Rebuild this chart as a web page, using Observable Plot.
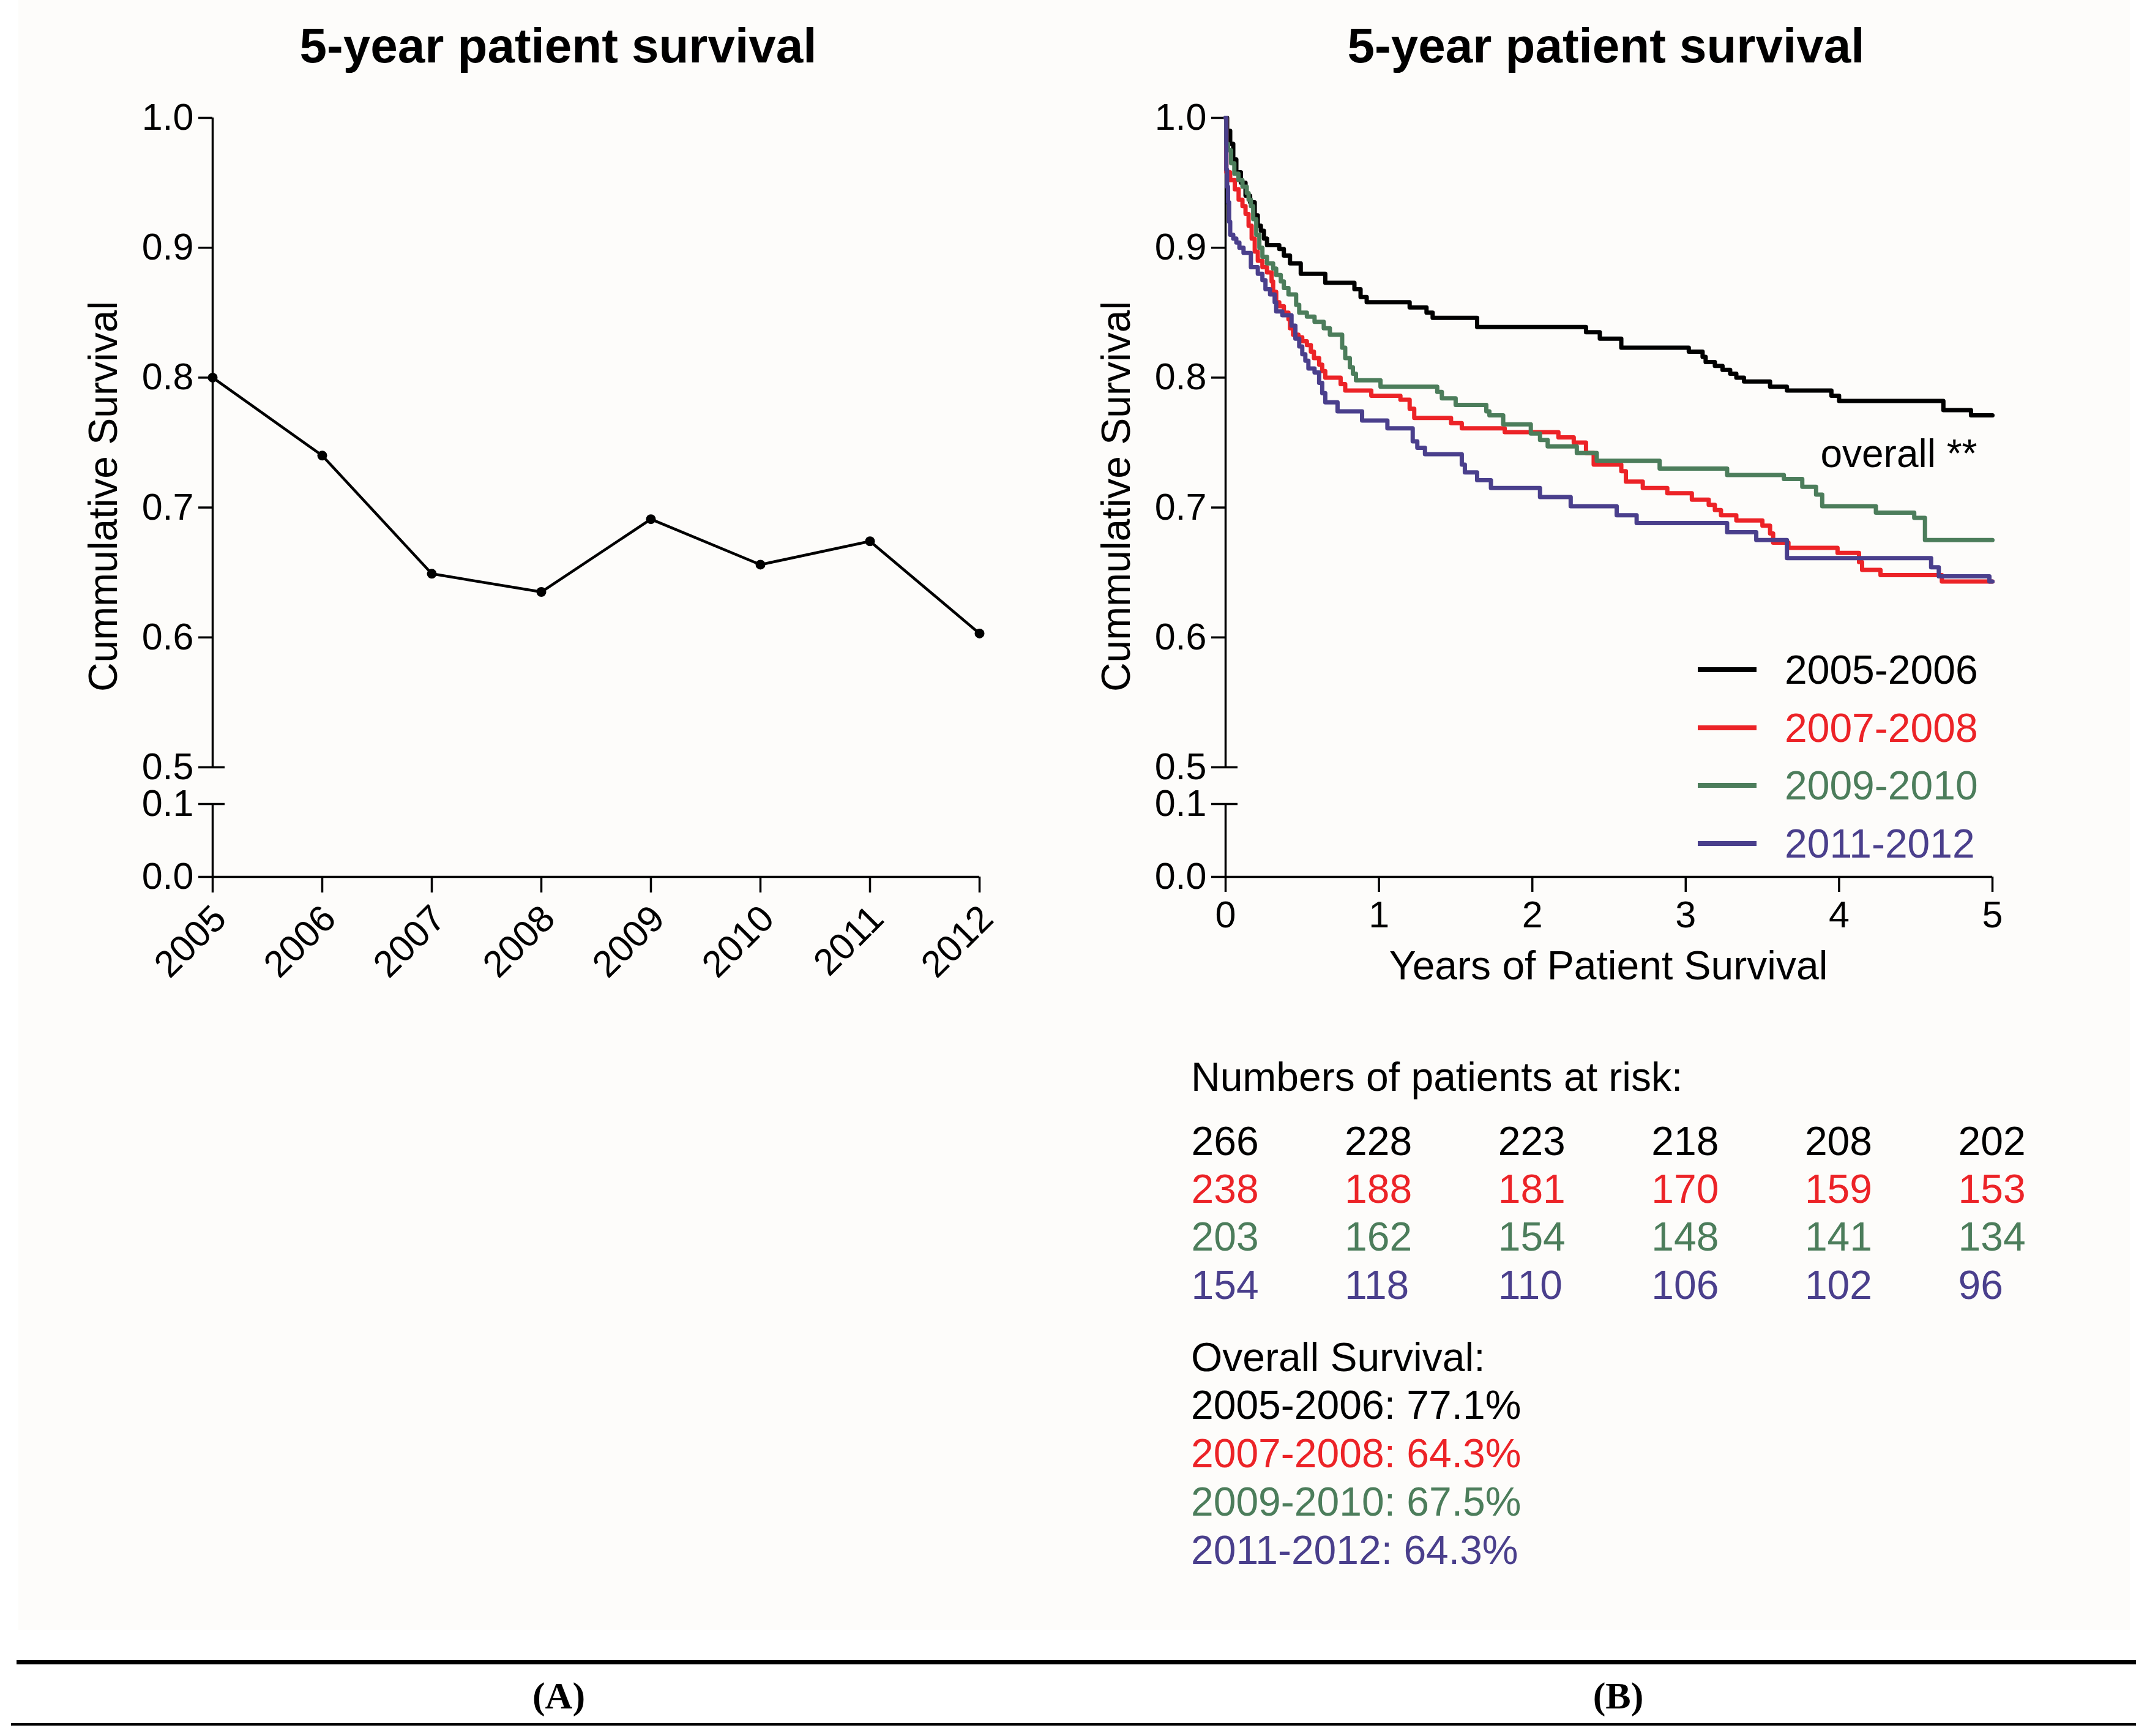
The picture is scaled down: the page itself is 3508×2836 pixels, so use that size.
<!DOCTYPE html>
<html>
<head>
<meta charset="utf-8">
<script src="https://cdn.jsdelivr.net/npm/d3@7"></script>
<script src="https://cdn.jsdelivr.net/npm/@observablehq/plot@0.6"></script>
<style>
  html, body { margin: 0; padding: 0; background: #ffffff; overflow: hidden; }
  #page { position: relative; width: 3508px; height: 2836px; background: #ffffff;
          font-family: "Liberation Sans", Arial, sans-serif; color: #000; }
  .abs { position: absolute; }
</style>
</head>
<body>
<div id="page"></div>
<script>
// ---------------- DATA ----------------
const years = [2005, 2006, 2007, 2008, 2009, 2010, 2011, 2012];
const survival5y = [0.800, 0.740, 0.649, 0.635, 0.691, 0.656, 0.674, 0.603];

const groups = ["2005-2006", "2007-2008", "2009-2010", "2011-2012"];
const groupColors = ["#000000", "#ec2327", "#4c7d5b", "#4a3f8c"];

const km2005Times = [0, 0.01, 0.03, 0.05, 0.07, 0.1, 0.13, 0.16, 0.19, 0.21, 0.23, 0.25, 0.27, 0.35, 0.38, 0.42, 0.49, 0.65, 0.84, 0.88, 0.92, 1.2, 1.31, 1.35, 1.64, 2.35, 2.44, 2.58, 3.02, 3.11, 3.13, 3.19, 3.24, 3.29, 3.33, 3.38, 3.55, 3.66, 3.95, 4.0, 4.68, 4.86, 5.0];
const km2005Surv  = [1, 0.99, 0.98, 0.968, 0.958, 0.95, 0.94, 0.935, 0.925, 0.917, 0.913, 0.907, 0.902, 0.899, 0.894, 0.888, 0.88, 0.873, 0.868, 0.862, 0.858, 0.854, 0.85, 0.846, 0.839, 0.835, 0.83, 0.823, 0.82, 0.816, 0.812, 0.809, 0.806, 0.803, 0.8, 0.797, 0.793, 0.79, 0.786, 0.782, 0.775, 0.771, 0.771];

const km2007Times = [0, 0.005, 0.03, 0.06, 0.085, 0.11, 0.13, 0.15, 0.17, 0.19, 0.21, 0.24, 0.27, 0.3, 0.31, 0.33, 0.35, 0.38, 0.41, 0.42, 0.44, 0.475, 0.5, 0.53, 0.556, 0.576, 0.61, 0.63, 0.65, 0.75, 0.78, 0.95, 1.14, 1.2, 1.23, 1.47, 1.54, 1.82, 2.17, 2.27, 2.35, 2.4, 2.58, 2.61, 2.72, 2.88, 3.04, 3.15, 3.19, 3.23, 3.33, 3.5, 3.55, 3.57, 3.67, 3.99, 4.13, 4.15, 4.27, 4.67, 5.0];
const km2007Surv  = [1, 0.958, 0.952, 0.945, 0.937, 0.932, 0.926, 0.917, 0.907, 0.897, 0.89, 0.885, 0.881, 0.874, 0.866, 0.858, 0.855, 0.85, 0.845, 0.838, 0.833, 0.831, 0.828, 0.825, 0.82, 0.815, 0.81, 0.805, 0.8, 0.795, 0.79, 0.786, 0.783, 0.776, 0.769, 0.765, 0.761, 0.758, 0.754, 0.75, 0.742, 0.733, 0.728, 0.72, 0.715, 0.711, 0.706, 0.702, 0.698, 0.694, 0.69, 0.686, 0.68, 0.673, 0.669, 0.665, 0.658, 0.652, 0.648, 0.643, 0.643];

const km2009Times = [0, 0.005, 0.016, 0.036, 0.057, 0.084, 0.11, 0.138, 0.15, 0.165, 0.18, 0.2, 0.22, 0.24, 0.27, 0.31, 0.33, 0.36, 0.38, 0.41, 0.46, 0.48, 0.53, 0.58, 0.64, 0.68, 0.76, 0.78, 0.81, 0.83, 0.85, 1.01, 1.38, 1.41, 1.5, 1.7, 1.72, 1.81, 1.99, 2.05, 2.1, 2.29, 2.42, 2.83, 3.27, 3.64, 3.76, 3.85, 3.89, 4.24, 4.49, 4.56, 5.0];
const km2009Surv  = [1, 0.98, 0.975, 0.965, 0.957, 0.952, 0.947, 0.942, 0.937, 0.932, 0.922, 0.91, 0.9, 0.893, 0.888, 0.884, 0.879, 0.874, 0.869, 0.864, 0.856, 0.85, 0.847, 0.843, 0.838, 0.833, 0.823, 0.815, 0.808, 0.803, 0.798, 0.793, 0.789, 0.784, 0.779, 0.774, 0.771, 0.764, 0.757, 0.752, 0.747, 0.742, 0.736, 0.730, 0.725, 0.722, 0.716, 0.71, 0.701, 0.696, 0.692, 0.675, 0.675];

const km2011Times = [0, 0.005, 0.01, 0.016, 0.023, 0.03, 0.05, 0.07, 0.09, 0.117, 0.165, 0.21, 0.24, 0.26, 0.29, 0.32, 0.33, 0.37, 0.43, 0.455, 0.48, 0.5, 0.52, 0.54, 0.58, 0.61, 0.63, 0.65, 0.73, 0.89, 1.055, 1.22, 1.25, 1.3, 1.54, 1.56, 1.64, 1.73, 2.05, 2.25, 2.55, 2.68, 3.27, 3.46, 3.66, 4.6, 4.65, 4.98, 5.0];
const km2011Surv  = [1, 0.96, 0.947, 0.935, 0.92, 0.91, 0.907, 0.904, 0.9, 0.896, 0.885, 0.88, 0.875, 0.868, 0.864, 0.858, 0.851, 0.848, 0.84, 0.83, 0.824, 0.818, 0.813, 0.807, 0.804, 0.796, 0.788, 0.781, 0.774, 0.767, 0.761, 0.751, 0.746, 0.741, 0.733, 0.727, 0.721, 0.715, 0.708, 0.701, 0.694, 0.688, 0.681, 0.675, 0.661, 0.654, 0.647, 0.643, 0.643];

const riskTimes = [0, 1, 2, 3, 4, 5];
const risk2005 = [266, 228, 223, 218, 208, 202];
const risk2007 = [238, 188, 181, 170, 159, 153];
const risk2009 = [203, 162, 154, 148, 141, 134];
const risk2011 = [154, 118, 110, 106, 102, 96];
const overallSurvival = ["77.1%", "64.3%", "67.5%", "64.3%"];

const yTicksUpper = [0.5, 0.6, 0.7, 0.8, 0.9, 1.0];
const yTicksLower = [0, 0.1];
const yDomainUpper = [0.5, 1.0];
const yDomainLower = [0, 0.1];
const xTicksB = [0, 1, 2, 3, 4, 5];
const annotation = [{t: 5, s: 0.741, label: "overall **"}];

const chartTitle = "5-year patient survival";
const yLabel = "Cummulative Survival";
const xLabelB = "Years of Patient Survival";

// ---------------- BUILD ----------------
const FONT = '"Liberation Sans", Arial, sans-serif';
const page = document.getElementById("page");

function box(o) {
  const d = document.createElement("div");
  d.className = "abs";
  Object.assign(d.style, o);
  page.appendChild(d);
  return d;
}
function addText(txt, o) {
  const d = document.createElement("div");
  d.className = "abs";
  d.textContent = txt;
  const tx = o.anchor === "middle" ? "-50%" : o.anchor === "end" ? "-100%" : "0";
  Object.assign(d.style, {
    left: o.x + "px", top: o.y + "px", fontSize: o.size + "px", lineHeight: "1",
    whiteSpace: "nowrap", color: o.color || "#000", fontWeight: o.weight || "normal",
    fontFamily: o.family || FONT,
    transform: `translate(${tx}, -50%)` + (o.rotate ? ` rotate(${o.rotate}deg)` : "")
  });
  page.appendChild(d);
  return d;
}
function mount(svg, left, top, w) {
  const holder = document.createElement("div");
  holder.className = "abs";
  Object.assign(holder.style, {left: left + "px", top: top + "px", width: w + "px"});
  holder.appendChild(svg);
  page.appendChild(holder);
}

// off-white figure background
box({left: "30px", top: "0px", width: "3450px", height: "2663px", background: "#fdfcfa"});

// titles
addText(chartTitle, {x: 912, y: 75, size: 80, weight: "bold", anchor: "middle"});
addText(chartTitle, {x: 2624, y: 75, size: 80, weight: "bold", anchor: "middle"});
// y labels
addText(yLabel, {x: 168, y: 811, size: 66, anchor: "middle", rotate: -90});
addText(yLabel, {x: 1823, y: 811, size: 66, anchor: "middle", rotate: -90});
// x label panel B
addText(xLabelB, {x: 2628, y: 1577, size: 66, anchor: "middle"});

const AX = 3.5;
const fmt1 = d3.format(".1f");
const commonStyle = {fontFamily: FONT, fontSize: "61px", background: "transparent", overflow: "visible", maxWidth: "none", color: "#000"};

// Geometry (page pixels): upper segment 1.0 -> y=192, 0.5 -> y=1253 ; lower segment 0.1 -> 1313, 0.0 -> 1432
const UP_TOP = 130, UP_H = 1153;     // svg spans 130..1283
const LO_TOP = 1283, LO_H = 407;     // svg spans 1283..1690

function upperPlot({xDomain, xLeft, xRight, marks}) {
  return Plot.plot({
    width: 1754, height: UP_H,
    marginTop: 192 - UP_TOP, marginBottom: (UP_TOP + UP_H) - 1253,
    marginLeft: xLeft, marginRight: 1754 - xRight,
    style: commonStyle,
    x: {domain: xDomain, axis: null},
    y: {domain: yDomainUpper, axis: null},
    color: {domain: groups, range: groupColors},
    marks: [
      Plot.ruleX([xDomain[0]], {y1: yDomainUpper[0], y2: yDomainUpper[1], strokeWidth: AX}),
      Plot.axisY({ticks: yTicksUpper, tickFormat: fmt1, tickSize: 23, tickPadding: 8, strokeWidth: AX, fontSize: 61, label: null}),
      Plot.axisY({ticks: [yDomainUpper[0]], tickFormat: () => "", tickSize: 20, dx: 20, strokeWidth: AX, label: null}),
      ...marks
    ]
  });
}
function lowerPlot({xDomain, xLeft, xRight, xAxis}) {
  return Plot.plot({
    width: 1754, height: LO_H,
    marginTop: 1313 - LO_TOP, marginBottom: (LO_TOP + LO_H) - 1432,
    marginLeft: xLeft, marginRight: 1754 - xRight,
    style: commonStyle,
    x: {domain: xDomain, axis: null},
    y: {domain: yDomainLower, axis: null},
    marks: [
      Plot.ruleX([xDomain[0]], {y1: yDomainLower[0], y2: yDomainLower[1], strokeWidth: AX}),
      Plot.ruleY([yDomainLower[0]], {x1: xDomain[0], x2: xDomain[1], strokeWidth: AX}),
      Plot.axisY({ticks: yTicksLower, tickFormat: fmt1, tickSize: 23, tickPadding: 8, strokeWidth: AX, fontSize: 61, label: null}),
      Plot.axisY({ticks: [yDomainLower[1]], tickFormat: () => "", tickSize: 20, dx: 20, strokeWidth: AX, label: null}),
      ...xAxis
    ]
  });
}

// ----- Panel A -----
const rowsA = years.map((y, i) => ({year: y, s: survival5y[i]}));
const xDomA = [years[0], years[years.length - 1]];
mount(upperPlot({
  xDomain: xDomA, xLeft: 347, xRight: 1600,
  marks: [
    Plot.line(rowsA, {x: "year", y: "s", stroke: "#000", strokeWidth: 4.5}),
    Plot.dot(rowsA, {x: "year", y: "s", r: 8, fill: "#000", stroke: "none"})
  ]
}), 0, UP_TOP, 1754);
mount(lowerPlot({
  xDomain: xDomA, xLeft: 347, xRight: 1600,
  xAxis: [
    Plot.axisX({ticks: years, tickFormat: () => "", tickSize: 26, strokeWidth: AX, label: null}),
    Plot.axisX({ticks: years, tickFormat: d => String(d), tickRotate: -45, tickSize: 26, tickPadding: 32, dx: 12, strokeOpacity: 0, fontSize: 61, label: null})
  ]
}), 0, LO_TOP, 1754);

// ----- Panel B -----
const kmSeries = [
  [km2005Times, km2005Surv], [km2007Times, km2007Surv],
  [km2009Times, km2009Surv], [km2011Times, km2011Surv]
];
const kmRows = kmSeries.flatMap(([ts, ss], gi) => ts.map((t, i) => ({t, s: ss[i], group: groups[gi]})));
const xDomB = [xTicksB[0], xTicksB[xTicksB.length - 1]];
mount(upperPlot({
  xDomain: xDomB, xLeft: 248, xRight: 1501,
  marks: [
    Plot.line(kmRows, {x: "t", y: "s", z: "group", stroke: "group", curve: "step-after", strokeWidth: 7}),
    Plot.text(annotation, {x: "t", y: "s", text: "label", textAnchor: "end", dx: -25, fontSize: 64, fill: "#000"})
  ]
}), 1754, UP_TOP, 1754);
mount(lowerPlot({
  xDomain: xDomB, xLeft: 248, xRight: 1501,
  xAxis: [Plot.axisX({ticks: xTicksB, tickFormat: d => String(d), tickSize: 25, tickPadding: 14, strokeWidth: AX, fontSize: 61, label: null})]
}), 1754, LO_TOP, 1754);

// legend (panel B)
const legendRows = [1094, 1189, 1283, 1378];
groups.forEach((g, i) => {
  box({left: "2774px", top: (legendRows[i] - 4) + "px", width: "96px", height: "8px", background: groupColors[i]});
  addText(g, {x: 2916, y: legendRows[i], size: 66, color: groupColors[i]});
});

// ----- Risk table -----
addText("Numbers of patients at risk:", {x: 1946, y: 1759, size: 66});
const riskSeries = [risk2005, risk2007, risk2009, risk2011];
const riskRows = riskSeries.flatMap((arr, gi) => arr.map((n, i) => ({t: riskTimes[i], row: gi, n: String(n), group: groups[gi]})));
const plotT = Plot.plot({
  width: 1754, height: 360, margin: 0,
  style: Object.assign({}, commonStyle, {fontSize: "66px"}),
  x: {domain: xDomB, range: [248, 1501], axis: null},
  y: {domain: [0, 3], range: [65, 300], axis: null},
  color: {domain: groups, range: groupColors},
  marks: [
    Plot.text(riskRows, {x: "t", y: "row", text: "n", fill: "group", textAnchor: "start", dx: -56, fontSize: 66})
  ]
});
mount(plotT, 1754, 1800, 1754);

// overall survival block
addText("Overall Survival:", {x: 1946, y: 2217, size: 66});
const osRows = [2295, 2374, 2453, 2532];
groups.forEach((g, i) => {
  addText(`${g}: ${overallSurvival[i]}`, {x: 1946, y: osRows[i], size: 66, color: groupColors[i]});
});

// bottom caption table
box({left: "27px", top: "2712px", width: "3463px", height: "7px", background: "#000"});
addText("(A)", {x: 913, y: 2770, size: 62, weight: "bold", anchor: "middle", family: '"Liberation Serif", "Times New Roman", serif'});
addText("(B)", {x: 2644, y: 2770, size: 62, weight: "bold", anchor: "middle", family: '"Liberation Serif", "Times New Roman", serif'});
box({left: "18px", top: "2815px", width: "3472px", height: "4px", background: "#000"});
</script>
</body>
</html>
